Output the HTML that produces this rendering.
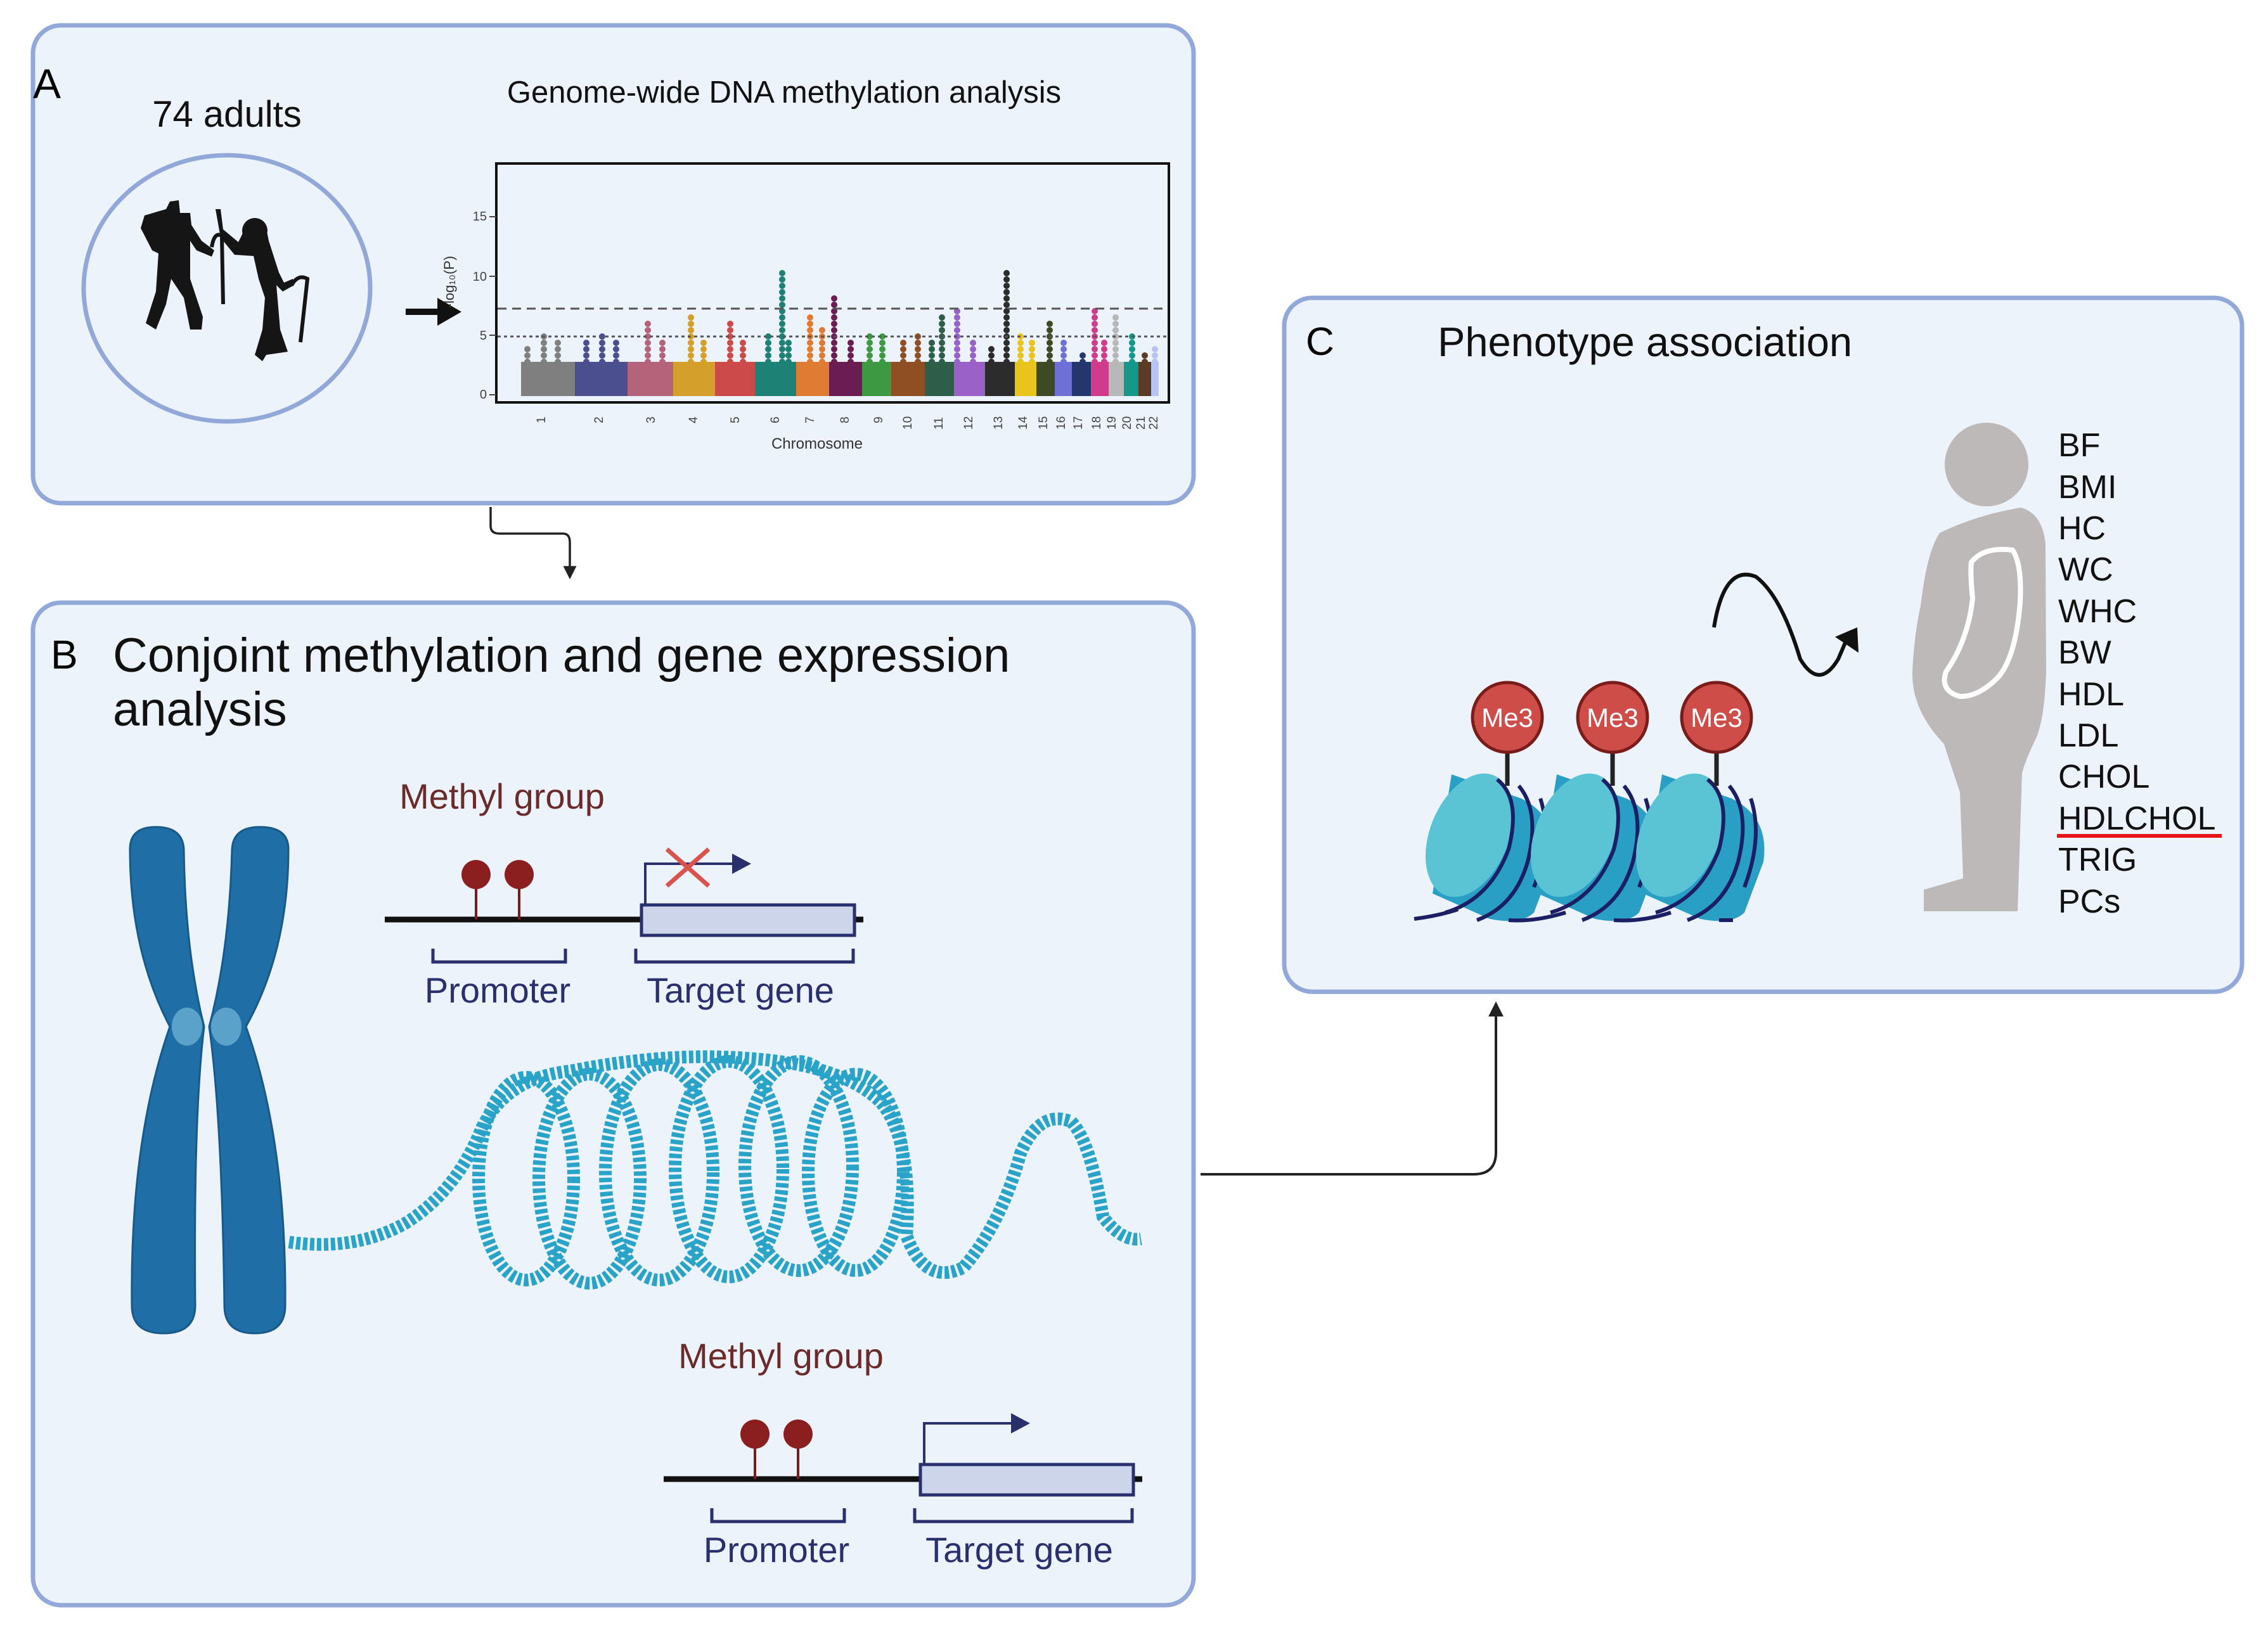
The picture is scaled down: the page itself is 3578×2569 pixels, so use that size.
<!DOCTYPE html>
<html><head><meta charset="utf-8"><style>
html,body{margin:0;padding:0;background:#fff;}
svg{display:block;}
text{font-family:"Liberation Sans",sans-serif;}
</style></head><body>
<svg width="3578" height="2569" viewBox="0 0 3578 2569" xmlns="http://www.w3.org/2000/svg">
<defs>
<marker id="ah" viewBox="0 0 10 10" refX="8" refY="5" markerWidth="6" markerHeight="6" orient="auto"><path d="M0,0 L10,5 L0,10 z" fill="#222"/></marker>
</defs>
<rect width="3578" height="2569" fill="#fff"/>

<!-- Panels -->
<rect x="52" y="40" width="1831" height="754" rx="44" fill="#edf3fa" stroke="#92a8d8" stroke-width="7"/>
<rect x="52" y="951" width="1831" height="1582" rx="44" fill="#edf3fa" stroke="#92a8d8" stroke-width="7"/>
<rect x="2026" y="470" width="1511" height="1095" rx="44" fill="#edf3fa" stroke="#92a8d8" stroke-width="7"/>

<!-- Panel A -->
<text x="52" y="155" font-size="66">A</text>
<text x="358" y="200" font-size="58" text-anchor="middle" fill="#111">74 adults</text>
<text x="1237" y="162" font-size="49" text-anchor="middle" fill="#111">Genome-wide DNA methylation analysis</text>
<ellipse cx="358" cy="455" rx="226" ry="210" fill="#edf3fa" stroke="#92a8d8" stroke-width="7"/>
<!-- people silhouettes -->
<g fill="#151515">
 <path d="M228,340 L262,330 L268,318 L282,316 L284,336 L300,336 L302,355 L318,380 L338,395 L334,405 L310,395 L300,380 L300,440 L320,500 L318,520 L300,520 L290,470 L270,440 L262,480 L246,520 L230,510 L246,460 L250,400 L240,395 L222,360 Z"/>
 <path d="M340,330 L348,330 L352,362 L376,382 L384,366 L406,352 L420,360 L424,380 L440,430 L448,446 L462,440 L464,450 L446,460 L436,450 L442,520 L454,555 L420,560 L414,570 L402,560 L414,520 L418,470 L408,440 L400,404 L370,402 L348,375 Z"/>
 <circle cx="402" cy="364" r="20"/>
</g>
<path d="M334,390 Q338,365 350,372 L352,480" fill="none" stroke="#151515" stroke-width="6"/>
<path d="M460,450 Q470,432 485,440 L474,540" fill="none" stroke="#151515" stroke-width="6"/>
<!-- arrow -->
<line x1="640" y1="492" x2="700" y2="492" stroke="#111" stroke-width="10"/>
<path d="M690,470 L728,492 L690,514 Z" fill="#111"/>
<!-- plot -->
<rect x="783" y="258" width="1061" height="377" fill="none" stroke="#111" stroke-width="4"/>
<g font-size="20" fill="#444" text-anchor="end">
<text x="768" y="348">15</text><text x="768" y="443">10</text><text x="768" y="536">5</text><text x="768" y="629">0</text>
</g>
<g stroke="#444" stroke-width="2"><line x1="772" y1="342" x2="783" y2="342"/><line x1="772" y1="436" x2="783" y2="436"/><line x1="772" y1="529" x2="783" y2="529"/><line x1="772" y1="623" x2="783" y2="623"/></g>
<text x="716" y="445" font-size="22" fill="#333" text-anchor="middle" transform="rotate(-90 716 445)">-log₁₀(P)</text>
<g>
<rect x="822" y="571" width="85" height="54" fill="#7f7f7f"/>
<rect x="907" y="571" width="83" height="54" fill="#4b4f8f"/>
<rect x="990" y="571" width="72" height="54" fill="#b5637a"/>
<rect x="1062" y="571" width="66" height="54" fill="#d4a02a"/>
<rect x="1128" y="571" width="63" height="54" fill="#cc4b48"/>
<rect x="1191" y="571" width="65" height="54" fill="#1d8275"/>
<rect x="1256" y="571" width="52" height="54" fill="#e07b33"/>
<rect x="1308" y="571" width="52" height="54" fill="#6b1d52"/>
<rect x="1360" y="571" width="46" height="54" fill="#3d9a42"/>
<rect x="1406" y="571" width="53" height="54" fill="#8f4f22"/>
<rect x="1459" y="571" width="46" height="54" fill="#2e5e4a"/>
<rect x="1505" y="571" width="49" height="54" fill="#9a61c9"/>
<rect x="1554" y="571" width="47" height="54" fill="#2c2c2c"/>
<rect x="1601" y="571" width="34" height="54" fill="#e8c41c"/>
<rect x="1635" y="571" width="29" height="54" fill="#3d4a24"/>
<rect x="1664" y="571" width="27" height="54" fill="#6e70d6"/>
<rect x="1691" y="571" width="30" height="54" fill="#24376d"/>
<rect x="1721" y="571" width="28" height="54" fill="#d03c8c"/>
<rect x="1749" y="571" width="24" height="54" fill="#b8b8b8"/>
<rect x="1773" y="571" width="23" height="54" fill="#14988a"/>
<rect x="1796" y="571" width="20" height="54" fill="#5c3b25"/>
<rect x="1816" y="571" width="12" height="54" fill="#b8c3f2"/>
</g>
<g stroke-width="10" stroke-linecap="round" stroke-dasharray="0 10">
<line x1="832" x2="832" y1="571" y2="543" stroke="#7f7f7f"/><line x1="858" x2="858" y1="571" y2="530" stroke="#7f7f7f"/><line x1="880" x2="880" y1="571" y2="537" stroke="#7f7f7f"/>
<line x1="925" x2="925" y1="571" y2="539" stroke="#4b4f8f"/><line x1="950" x2="950" y1="571" y2="526" stroke="#4b4f8f"/><line x1="972" x2="972" y1="571" y2="533" stroke="#4b4f8f"/>
<line x1="1022" x2="1022" y1="571" y2="507" stroke="#b5637a"/><line x1="1045" x2="1045" y1="571" y2="533" stroke="#b5637a"/>
<line x1="1090" x2="1090" y1="571" y2="498" stroke="#d4a02a"/><line x1="1110" x2="1110" y1="571" y2="537" stroke="#d4a02a"/>
<line x1="1152" x2="1152" y1="571" y2="509" stroke="#cc4b48"/><line x1="1172" x2="1172" y1="571" y2="533" stroke="#cc4b48"/>
<line x1="1234" x2="1234" y1="571" y2="430" stroke="#1d8275"/><line x1="1212" x2="1212" y1="571" y2="530" stroke="#1d8275"/><line x1="1244" x2="1244" y1="571" y2="535" stroke="#1d8275"/>
<line x1="1278" x2="1278" y1="571" y2="496" stroke="#e07b33"/><line x1="1297" x2="1297" y1="571" y2="515" stroke="#e07b33"/>
<line x1="1316" x2="1316" y1="571" y2="464" stroke="#6b1d52"/><line x1="1342" x2="1342" y1="571" y2="533" stroke="#6b1d52"/>
<line x1="1372" x2="1372" y1="571" y2="524" stroke="#3d9a42"/><line x1="1392" x2="1392" y1="571" y2="526" stroke="#3d9a42"/>
<line x1="1425" x2="1425" y1="571" y2="535" stroke="#8f4f22"/><line x1="1448" x2="1448" y1="571" y2="522" stroke="#8f4f22"/>
<line x1="1486" x2="1486" y1="571" y2="496" stroke="#2e5e4a"/><line x1="1470" x2="1470" y1="571" y2="540" stroke="#2e5e4a"/>
<line x1="1510" x2="1510" y1="571" y2="486" stroke="#9a61c9"/><line x1="1535" x2="1535" y1="571" y2="533" stroke="#9a61c9"/>
<line x1="1588" x2="1588" y1="571" y2="425" stroke="#2c2c2c"/><line x1="1564" x2="1564" y1="571" y2="548" stroke="#2c2c2c"/>
<line x1="1610" x2="1610" y1="571" y2="522" stroke="#e8c41c"/><line x1="1628" x2="1628" y1="571" y2="537" stroke="#e8c41c"/>
<line x1="1656" x2="1656" y1="571" y2="505" stroke="#3d4a24"/>
<line x1="1678" x2="1678" y1="571" y2="531" stroke="#6e70d6"/>
<line x1="1708" x2="1708" y1="571" y2="552" stroke="#24376d"/>
<line x1="1727" x2="1727" y1="571" y2="486" stroke="#d03c8c"/><line x1="1742" x2="1742" y1="571" y2="531" stroke="#d03c8c"/>
<line x1="1760" x2="1760" y1="571" y2="498" stroke="#b8b8b8"/>
<line x1="1786" x2="1786" y1="571" y2="528" stroke="#14988a"/>
<line x1="1806" x2="1806" y1="571" y2="558" stroke="#5c3b25"/>
<line x1="1822" x2="1822" y1="571" y2="550" stroke="#b8c3f2"/>
</g>
<line x1="785" y1="487" x2="1842" y2="487" stroke="#555" stroke-width="3" stroke-dasharray="14 9"/>
<line x1="785" y1="531" x2="1842" y2="531" stroke="#555" stroke-width="3" stroke-dasharray="5 5"/>
<g font-size="19" fill="#444">
<text transform="translate(860,668) rotate(-90)">1</text><text transform="translate(951,668) rotate(-90)">2</text><text transform="translate(1033,668) rotate(-90)">3</text><text transform="translate(1100,668) rotate(-90)">4</text><text transform="translate(1166,668) rotate(-90)">5</text><text transform="translate(1229,668) rotate(-90)">6</text><text transform="translate(1284,668) rotate(-90)">7</text><text transform="translate(1339,668) rotate(-90)">8</text><text transform="translate(1392,668) rotate(-90)">9</text><text transform="translate(1438,678) rotate(-90)">10</text><text transform="translate(1487,678) rotate(-90)">11</text><text transform="translate(1534,678) rotate(-90)">12</text><text transform="translate(1581,678) rotate(-90)">13</text><text transform="translate(1620,678) rotate(-90)">14</text><text transform="translate(1652,678) rotate(-90)">15</text><text transform="translate(1680,678) rotate(-90)">16</text><text transform="translate(1707,678) rotate(-90)">17</text><text transform="translate(1736,678) rotate(-90)">18</text><text transform="translate(1760,678) rotate(-90)">19</text><text transform="translate(1784,678) rotate(-90)">20</text><text transform="translate(1806,678) rotate(-90)">21</text><text transform="translate(1826,678) rotate(-90)">22</text>
</g>
<text x="1289" y="708" font-size="24" fill="#333" text-anchor="middle">Chromosome</text>

<!-- connector A->B -->
<path d="M774,800 L774,830 Q774,842 788,842 L888,842 Q899,842 899,856 L899,910" fill="none" stroke="#222" stroke-width="3.5" marker-end="url(#ah)"/>

<!-- Panel B -->
<text x="80" y="1055" font-size="64">B</text>
<text x="178" y="1060" font-size="76" fill="#111">Conjoint methylation and gene expression</text>
<text x="178" y="1145" font-size="76" fill="#111">analysis</text>

<g id="gene1">
<text x="792" y="1276" font-size="56" text-anchor="middle" fill="#6b2b2b">Methyl group</text>
<line x1="607" y1="1451" x2="1362" y2="1451" stroke="#111" stroke-width="9"/>
<line x1="751" y1="1380" x2="751" y2="1451" stroke="#7a1a1a" stroke-width="4"/>
<line x1="819" y1="1380" x2="819" y2="1451" stroke="#7a1a1a" stroke-width="4"/>
<circle cx="751" cy="1380" r="23" fill="#8b1f1f"/>
<circle cx="819" cy="1380" r="23" fill="#8b1f1f"/>
<rect x="1012" y="1428" width="336" height="48" fill="#cdd5ea" stroke="#2a2f6e" stroke-width="5"/>
<path d="M1018,1428 L1018,1363 L1160,1363" fill="none" stroke="#2a2f6e" stroke-width="4"/>
<path d="M1155,1347 L1185,1363 L1155,1379 Z" fill="#2a2f6e"/>
<path d="M683,1497 L683,1518 L892,1518 L892,1497 M1003,1497 L1003,1518 L1346,1518 L1346,1497" fill="none" stroke="#2a2f6e" stroke-width="5"/>
<text x="785" y="1582" font-size="56" text-anchor="middle" fill="#2a2f6e">Promoter</text>
<text x="1168" y="1582" font-size="56" text-anchor="middle" fill="#2a2f6e">Target gene</text>
</g>
<path d="M1052,1340 L1118,1398 M1118,1340 L1052,1398" stroke="#d9534f" stroke-width="7"/>

<g transform="translate(440,883)">
<text x="792" y="1276" font-size="56" text-anchor="middle" fill="#6b2b2b">Methyl group</text>
<line x1="607" y1="1451" x2="1362" y2="1451" stroke="#111" stroke-width="9"/>
<line x1="751" y1="1380" x2="751" y2="1451" stroke="#7a1a1a" stroke-width="4"/>
<line x1="819" y1="1380" x2="819" y2="1451" stroke="#7a1a1a" stroke-width="4"/>
<circle cx="751" cy="1380" r="23" fill="#8b1f1f"/>
<circle cx="819" cy="1380" r="23" fill="#8b1f1f"/>
<rect x="1012" y="1428" width="336" height="48" fill="#cdd5ea" stroke="#2a2f6e" stroke-width="5"/>
<path d="M1018,1428 L1018,1363 L1160,1363" fill="none" stroke="#2a2f6e" stroke-width="4"/>
<path d="M1155,1347 L1185,1363 L1155,1379 Z" fill="#2a2f6e"/>
<path d="M683,1497 L683,1518 L892,1518 L892,1497 M1003,1497 L1003,1518 L1346,1518 L1346,1497" fill="none" stroke="#2a2f6e" stroke-width="5"/>
<text x="785" y="1582" font-size="56" text-anchor="middle" fill="#2a2f6e">Promoter</text>
<text x="1168" y="1582" font-size="56" text-anchor="middle" fill="#2a2f6e">Target gene</text>
</g>

<!-- chromosome -->
<g fill="#1f6fa6" stroke="#17598a" stroke-width="3">
<path d="M205,1340 Q205,1305 246,1305 Q288,1305 290,1340 Q292,1500 322,1620 Q305,1760 308,2060 Q308,2104 258,2104 Q208,2104 208,2060 Q205,1800 268,1620 Q205,1500 205,1340 Z"/>
<path d="M366,1340 Q368,1305 410,1305 Q455,1305 455,1340 Q455,1500 388,1620 Q452,1800 450,2060 Q450,2104 402,2104 Q354,2104 354,2060 Q350,1760 330,1620 Q362,1500 366,1340 Z"/>
</g>
<ellipse cx="295" cy="1620" rx="24" ry="30" fill="#5aa2c9"/>
<ellipse cx="357" cy="1620" rx="24" ry="30" fill="#5aa2c9"/>

<!-- DNA coil -->
<g fill="none" stroke="#2aa3c9" stroke-width="20" stroke-dasharray="7 4">
<path d="M456,1960 Q560,1975 640,1930 Q720,1880 760,1780 Q800,1700 900,1690 Q1050,1660 1180,1670 Q1330,1680 1390,1740 Q1440,1800 1430,1950 Q1460,2030 1520,2000 Q1580,1930 1610,1820 Q1640,1750 1690,1770 Q1720,1800 1740,1920 Q1770,1960 1800,1955"/>
<ellipse cx="830" cy="1860" rx="75" ry="160"/>
<ellipse cx="930" cy="1860" rx="80" ry="165"/>
<ellipse cx="1040" cy="1850" rx="85" ry="170"/>
<ellipse cx="1150" cy="1845" rx="85" ry="170"/>
<ellipse cx="1260" cy="1840" rx="85" ry="165"/>
<ellipse cx="1350" cy="1850" rx="75" ry="155"/>
</g>

<!-- connector B->C -->
<path d="M1894,1853 L2325,1853 Q2360,1853 2360,1818 L2360,1585" fill="none" stroke="#222" stroke-width="4" marker-end="url(#ah)"/>

<!-- Panel C -->
<text x="2060" y="560" font-size="62">C</text>
<text x="2268" y="562" font-size="65" fill="#111">Phenotype association</text>

<!-- nucleosomes -->
<g id="nuc">
<path d="M2290,1222 L2400,1260 Q2460,1290 2450,1360 L2420,1440 Q2400,1460 2350,1450 L2260,1410 Z" fill="#2a9fc6"/>
<ellipse cx="2318" cy="1318" rx="62" ry="102" transform="rotate(22 2318 1318)" fill="#5bc4d4"/>
<path d="M2362,1230 Q2400,1260 2380,1340 Q2350,1420 2280,1440 M2396,1240 Q2430,1280 2410,1360 Q2390,1430 2330,1452 M2430,1260 Q2450,1320 2420,1400" fill="none" stroke="#1c1f63" stroke-width="6"/>
</g>
<use href="#nuc" x="166"/>
<use href="#nuc" x="332"/>
<path d="M2231,1450 Q2270,1445 2300,1435 M2380,1452 Q2420,1455 2470,1440 M2546,1452 Q2590,1455 2636,1440 M2712,1452 L2734,1452" fill="none" stroke="#1c1f63" stroke-width="6"/>
<g>
<line x1="2378" y1="1180" x2="2378" y2="1240" stroke="#222" stroke-width="7"/>
<line x1="2544" y1="1180" x2="2544" y2="1240" stroke="#222" stroke-width="7"/>
<line x1="2708" y1="1180" x2="2708" y2="1240" stroke="#222" stroke-width="7"/>
<circle cx="2378" cy="1132" r="55" fill="#cf4d48" stroke="#7a1d1a" stroke-width="5"/>
<circle cx="2544" cy="1132" r="55" fill="#cf4d48" stroke="#7a1d1a" stroke-width="5"/>
<circle cx="2708" cy="1132" r="55" fill="#cf4d48" stroke="#7a1d1a" stroke-width="5"/>
<g font-size="42" fill="#fff" text-anchor="middle"><text x="2378" y="1147">Me3</text><text x="2544" y="1147">Me3</text><text x="2708" y="1147">Me3</text></g>
</g>

<!-- wavy arrow -->
<path d="M2704,990 Q2720,890 2770,910 Q2810,940 2840,1040 Q2870,1090 2900,1040 L2915,1005" fill="none" stroke="#111" stroke-width="6"/>
<path d="M2895,1005 L2930,990 L2932,1030 Z" fill="#111"/>

<!-- human -->
<circle cx="3134" cy="733" r="66" fill="#bdb9b9"/>
<path d="M3060,841 Q3120,812 3188,801 Q3222,810 3227,858 L3228,1059 Q3226,1130 3213,1163 Q3195,1200 3190,1220 L3183,1438 L3035,1438 L3035,1404 L3097,1386 L3092,1250 Q3075,1200 3067,1174 Q3015,1120 3017,1059 Q3020,1000 3030,956 Q3040,870 3060,841 Z" fill="#bdb9b9"/>
<path d="M3110,887 Q3130,862 3175,868 Q3190,890 3187,950 Q3180,1040 3150,1071 Q3120,1100 3092,1099 Q3060,1090 3070,1060 Q3105,1010 3112,944 Q3108,905 3110,887 Z" fill="none" stroke="#fff" stroke-width="8"/>

<g font-size="52" fill="#111">
<text x="3247" y="720">BF</text>
<text x="3247" y="786">BMI</text>
<text x="3247" y="851">HC</text>
<text x="3247" y="916">WC</text>
<text x="3247" y="982">WHC</text>
<text x="3247" y="1047">BW</text>
<text x="3247" y="1113">HDL</text>
<text x="3247" y="1178">LDL</text>
<text x="3247" y="1243">CHOL</text>
<text x="3247" y="1309">HDLCHOL</text>
<text x="3247" y="1374">TRIG</text>
<text x="3247" y="1440">PCs</text>
</g>
<line x1="3245" y1="1319" x2="3505" y2="1319" stroke="#e8141c" stroke-width="6"/>
</svg>
</body></html>
